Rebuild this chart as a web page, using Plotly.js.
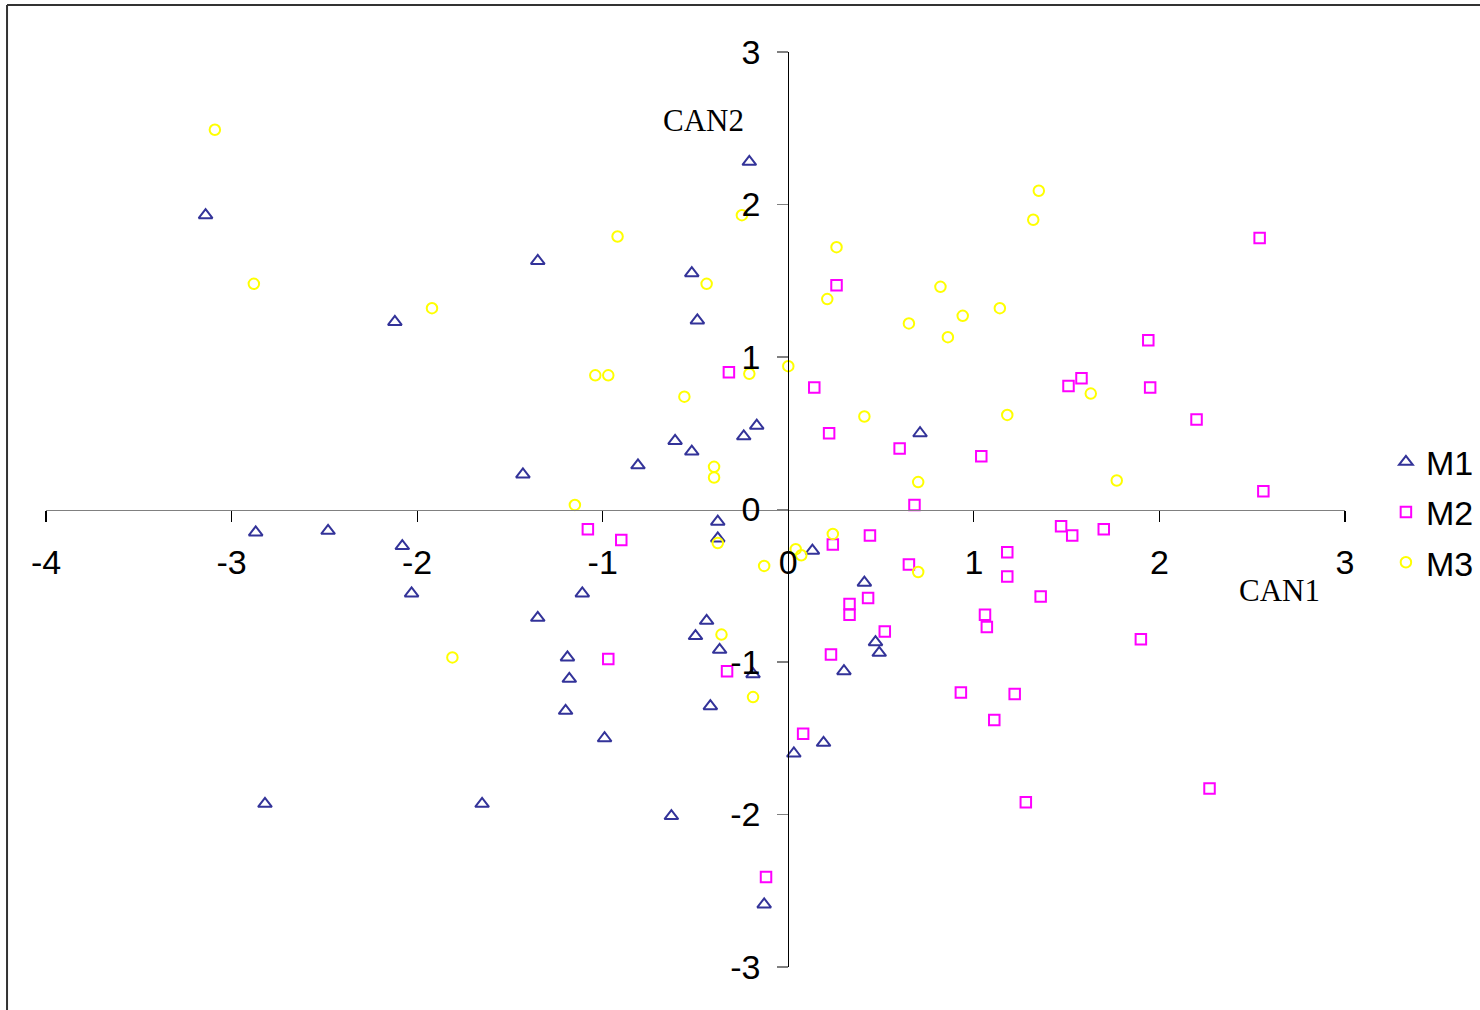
<!DOCTYPE html>
<html>
<head>
<meta charset="utf-8">
<script src="https://cdn.plot.ly/plotly-3.0.1.min.js"></script>
<style>html,body{margin:0;padding:0;background:#fff;}#chart{width:1480px;height:1010px;}</style>
</head>
<body>
<div id="chart"></div>
<script>
// ---- data ----
const seriesNames = ["M1", "M2", "M3"];

const m1X = [-3.14,-0.21,-1.35,-0.52,-0.49,-2.12,-0.17,-0.24,-0.61,-0.52,-0.81,-1.43,0.71,-2.87,-2.48,-2.08,-2.03,-0.38,-0.38,0.13,0.41,-1.11,-1.35,-0.44,-0.50,-0.37,-1.19,-0.19,-1.18,0.30,0.47,0.49,-1.20,-0.42,-0.99,0.19,0.03,-2.82,-1.65,-0.63,-0.13];
const m1Y = [1.93,2.28,1.63,1.55,1.24,1.23,0.55,0.48,0.45,0.38,0.29,0.23,0.50,-0.15,-0.14,-0.24,-0.55,-0.08,-0.19,-0.27,-0.48,-0.55,-0.71,-0.73,-0.83,-0.92,-0.97,-1.08,-1.11,-1.06,-0.87,-0.94,-1.32,-1.29,-1.50,-1.53,-1.60,-1.93,-1.93,-2.01,-2.59];

const m2X = [2.54,0.26,1.94,-0.32,0.14,1.58,1.51,1.95,0.22,2.20,0.60,1.04,0.68,2.56,-1.08,-0.90,0.24,0.44,1.47,1.53,1.70,1.18,0.65,1.18,0.43,0.33,0.33,0.52,1.36,1.06,1.07,1.90,0.23,-0.97,-0.33,0.93,1.22,1.11,0.08,1.28,2.27,-0.12];
const m2Y = [1.78,1.47,1.11,0.90,0.80,0.86,0.81,0.80,0.50,0.59,0.40,0.35,0.03,0.12,-0.13,-0.20,-0.23,-0.17,-0.11,-0.17,-0.13,-0.28,-0.36,-0.44,-0.58,-0.62,-0.69,-0.80,-0.57,-0.69,-0.77,-0.85,-0.95,-0.98,-1.06,-1.20,-1.21,-1.38,-1.47,-1.92,-1.83,-2.41];

const m3X = [-3.09,-2.88,-1.92,-0.92,-0.25,-0.44,0.26,0.21,0.82,0.94,0.65,0.86,1.35,1.32,1.14,-1.04,-0.97,-0.21,0.00,-0.56,0.41,-0.40,-0.40,-1.15,1.18,1.63,0.70,1.77,0.24,0.04,0.07,-0.13,0.70,-0.38,-0.36,-0.19,-1.81];
const m3Y = [2.49,1.48,1.32,1.79,1.93,1.48,1.72,1.38,1.46,1.27,1.22,1.13,2.09,1.90,1.32,0.88,0.88,0.89,0.94,0.74,0.61,0.28,0.21,0.03,0.62,0.76,0.18,0.19,-0.16,-0.26,-0.30,-0.37,-0.41,-0.22,-0.82,-1.23,-0.97];

const xTickVals = [-4,-3,-2,-1,0,1,2,3];
const xTickText = ["-4","-3","-2","-1","0","1","2","3"];
const yTickVals = [-3,-2,-1,0,1,2,3];
const yTickText = ["-3","-2","-1","0","1","2","3"];
const xTitle = "CAN1";
const yTitle = "CAN2";

// ---- styles ----
const colors = ["#333399", "#FF00FF", "#FFFF00"];
const symbols = ["triangle-up-open", "square-open", "circle-open"];
const sizes = [12, 10.5, 10.5];
const xs = [m1X, m2X, m3X];
const ys = [m1Y, m2Y, m3Y];

const traces = seriesNames.map((n, i) => ({
  type: "scatter", mode: "markers", name: n, legendgroup: n,
  x: xs[i], y: ys[i],
  marker: { symbol: symbols[i], size: sizes[i], color: colors[i], line: { color: colors[i], width: 2 } },
  cliponaxis: false
}));

const tickFont = { family: "Liberation Sans, Arial, sans-serif", size: 34, color: "#000" };
const serif = { family: "Liberation Serif, Times New Roman, serif", size: 31, color: "#000" };

const layout = {
  width: 1480, height: 1010,
  margin: { l: 46, r: 135, t: 52, b: 43, autoexpand: false },
  paper_bgcolor: "#fff", plot_bgcolor: "#fff",
  showlegend: true,
  xaxis: {
    range: [-4, 3], anchor: "free", position: 0.5,
    showgrid: false, zeroline: false,
    showline: true, linecolor: "#808080", linewidth: 1.5,
    ticks: "outside", ticklen: 11, tickwidth: 1.2, tickcolor: "#000",
    tickmode: "array", tickvals: xTickVals, ticktext: xTickText,
    tickfont: tickFont, ticklabelstandoff: 11, automargin: false
  },
  yaxis: {
    range: [-3, 3], anchor: "free", position: 4/7,
    showgrid: false, zeroline: false,
    showline: true, linecolor: "#000", linewidth: 1.2,
    ticks: "outside", ticklen: 11, tickwidth: 1.5, tickcolor: "#808080",
    tickmode: "array", tickvals: yTickVals, ticktext: yTickText,
    tickfont: tickFont, ticklabelstandoff: 10, automargin: false
  },
  legend: {
    x: 1.0315, xanchor: "left", y: 0.497, yanchor: "middle",
    font: { family: "Liberation Sans, Arial, sans-serif", size: 34, color: "#000" },
    bgcolor: "rgba(0,0,0,0)", borderwidth: 0, tracegroupgap: 3
  },
  annotations: [
    { text: yTitle, xref: "paper", yref: "paper", x: 0.5065, y: 0.9246, xanchor: "center", yanchor: "middle", showarrow: false, font: serif },
    { text: xTitle, xref: "paper", yref: "paper", x: 0.9492, y: 0.411, xanchor: "center", yanchor: "middle", showarrow: false, font: serif }
  ],
  shapes: [
    { type: "line", xref: "paper", yref: "paper", x0: -0.0300, x1: 1.12, y0: 1.0514, y1: 1.0514, line: { color: "#333", width: 2 } },
    { type: "line", xref: "paper", yref: "paper", x0: -0.0300, x1: -0.0300, y0: 1.0514, y1: -0.06, line: { color: "#333", width: 2 } }
  ]
};

Plotly.newPlot("chart", traces, layout, { displayModeBar: false, staticPlot: true });
</script>
</body>
</html>
